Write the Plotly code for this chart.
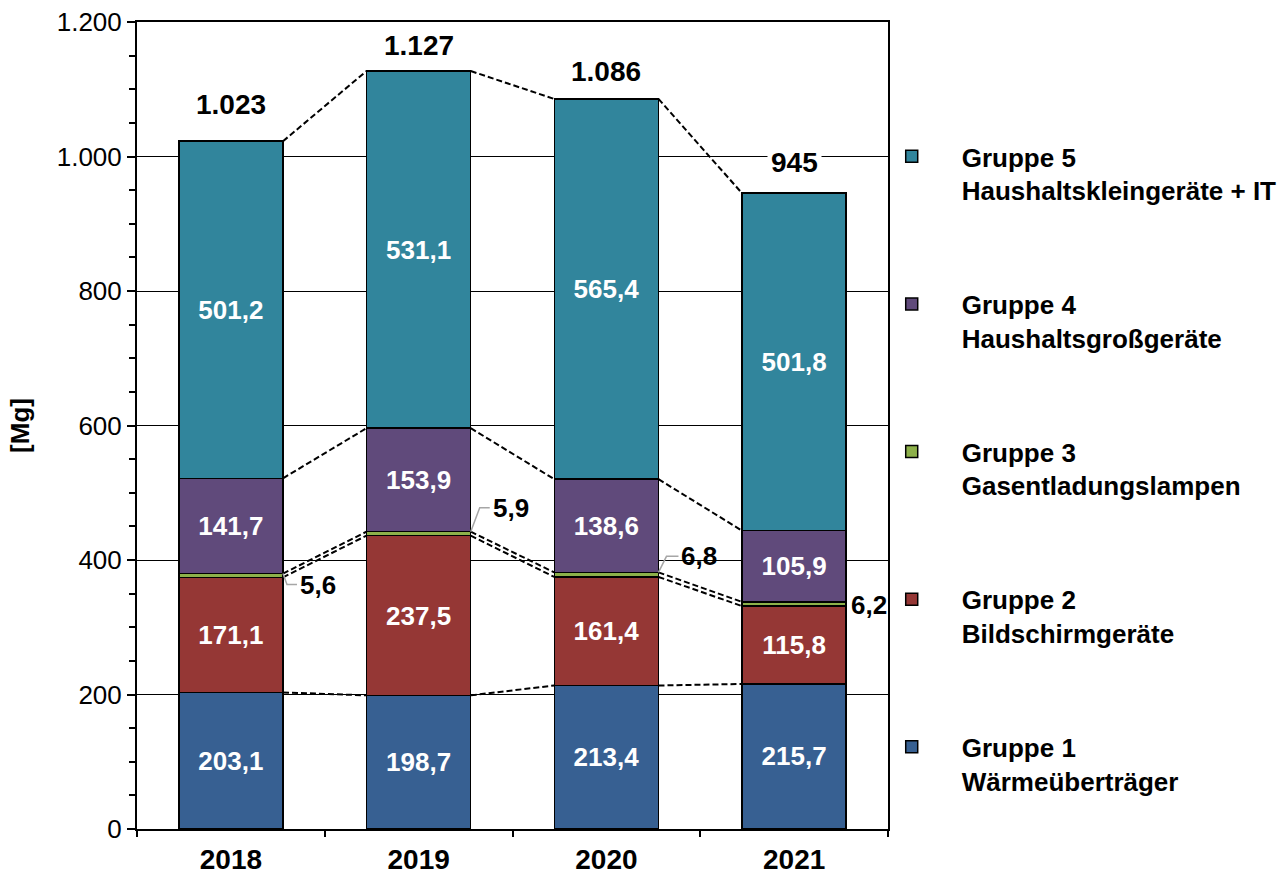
import plotly.graph_objects as go

years = ["2018", "2019", "2020", "2021"]
series_names = [
    "Gruppe 1<br>Wärmeüberträger",
    "Gruppe 2<br>Bildschirmgeräte",
    "Gruppe 3<br>Gasentladungslampen",
    "Gruppe 4<br>Haushaltsgroßgeräte",
    "Gruppe 5<br>Haushaltskleingeräte + IT",
]
gruppe1 = [203.1, 198.7, 213.4, 215.7]
gruppe2 = [171.1, 237.5, 161.4, 115.8]
gruppe3 = [5.6, 5.9, 6.8, 6.2]
gruppe4 = [141.7, 153.9, 138.6, 105.9]
gruppe5 = [501.2, 531.1, 565.4, 501.8]
series_values = [gruppe1, gruppe2, gruppe3, gruppe4, gruppe5]
colors = ["#376092", "#953735", "#8DB04A", "#604A7B", "#31859C"]

y_ticks = [0, 200, 400, 600, 800, 1000, 1200]
y_max = 1200

FONT = "Arial, Liberation Sans, sans-serif"
BAR_W = 0.555

fig = go.Figure()
for name, vals, col, idx in zip(series_names, series_values, colors, range(5)):
    is_small = idx == 2
    fig.add_trace(go.Bar(
        x=years, y=vals, name=name, legendgroup=f"g{idx}",
        legendrank=100 - idx,
        marker=dict(color=col, line=dict(color="#000000", width=1.5)),
        width=BAR_W,
        texttemplate=None if is_small else "%{y:.1f}",
        textposition="none" if is_small else "inside",
        insidetextanchor="middle", textangle=0,
        textfont=dict(family=FONT, size=26, color="white", weight="bold"),
        hoverinfo="skip",
    ))

# cumulative levels
n = len(years)
cum = []
for i in range(n):
    s = 0
    levels = []
    for vals in series_values:
        s += vals[i]
        levels.append(s)
    cum.append(levels)
totals = [c[-1] for c in cum]

shapes = []
# series lines
for k in range(5):
    for i in range(n - 1):
        shapes.append(dict(type="line", xref="x", yref="y",
                           x0=i + BAR_W / 2, y0=cum[i][k],
                           x1=i + 1 - BAR_W / 2, y1=cum[i + 1][k],
                           line=dict(color="black", width=2, dash="6px,3px")))

# leader lines for small group 3 labels (pixel offsets: style)
leader_paths = [
    "M0,0 L4,-11 L14,-11",
    "M0,0 L9,24 L19,24",
    "M0,0 L8,16 L20,16",
    None,
]
label_shift = [(14, -11), (19, 24), (20, 16), (2, -3)]
annotations = []
for i in range(n):
    corner_x = i + BAR_W / 2
    corner_y = cum[i][2]
    if leader_paths[i]:
        shapes.append(dict(type="path", xref="x", yref="y",
                           xsizemode="pixel", ysizemode="pixel",
                           xanchor=corner_x, yanchor=corner_y,
                           path=leader_paths[i],
                           line=dict(color="#A6A6A6", width=1.5)))
    dx, dy = label_shift[i]
    annotations.append(dict(
        x=corner_x, y=corner_y, xref="x", yref="y",
        text=f"{gruppe3[i]:.1f}".replace(".", ","),
        showarrow=False, xanchor="left", yanchor="middle",
        xshift=dx + 1, yshift=dy,
        font=dict(family=FONT, size=26, color="black", weight="bold"),
    ))

# totals
total_shift = [37, 26, 27, 31]
for i in range(n):
    annotations.append(dict(
        x=i, y=totals[i], xref="x", yref="y",
        text=f"{round(totals[i]):,}".replace(",", "."),
        showarrow=False, xanchor="center", yanchor="middle",
        yshift=total_shift[i], bgcolor="white", borderpad=3,
        font=dict(family=FONT, size=28, color="black", weight="bold"),
    ))

fig.update_layout(
    width=1288, height=874,
    barmode="stack",
    separators=",.",
    paper_bgcolor="white", plot_bgcolor="white",
    margin=dict(l=137, r=400, t=22, b=45, autoexpand=False),
    font=dict(family=FONT, color="black"),
    shapes=shapes,
    annotations=annotations,
    showlegend=True,
    legend=dict(
        traceorder="grouped",
        tracegroupgap=77,
        valign="top",
        x=0.965, xanchor="left",
        y=0.8625, yanchor="top",
        itemwidth=90,
        font=dict(family=FONT, size=26, color="black", weight="bold"),
        bgcolor="rgba(0,0,0,0)",
    ),
    xaxis=dict(
        type="category", categoryorder="array", categoryarray=years,
        automargin=False,
        showline=True, linecolor="black", linewidth=2, mirror=True,
        ticks="outside", tickson="boundaries", ticklen=6, tickwidth=1.5, tickcolor="black",
        ticklabelstandoff=4,
        tickfont=dict(family=FONT, size=28, color="black", weight="bold"),
        showgrid=False, range=[-0.5, 3.5],
    ),
    yaxis=dict(
        range=[0, y_max], tickvals=y_ticks, tickformat=",d",
        automargin=False,
        showline=True, linecolor="black", linewidth=2, mirror=True,
        ticks="outside", ticklen=8, tickwidth=1.5, tickcolor="black",
        tickfont=dict(family=FONT, size=26, color="black"),
        showgrid=True, gridcolor="black", gridwidth=1.2,
        zeroline=False,
        minor=dict(dtick=50, ticks="outside", ticklen=6, tickwidth=1.5, tickcolor="black", showgrid=False),
        title=dict(text="[Mg]", standoff=20,
                   font=dict(family=FONT, size=26, color="black", weight="bold")),
    ),
    bargap=1 - BAR_W,
)

# remove the default page margin so the figure fills the 1288x874 window exactly
fig.write_html(
    "out.html",
    config={"displayModeBar": False},
    post_script="document.body.style.margin='0';document.body.style.overflow='hidden';",
)
